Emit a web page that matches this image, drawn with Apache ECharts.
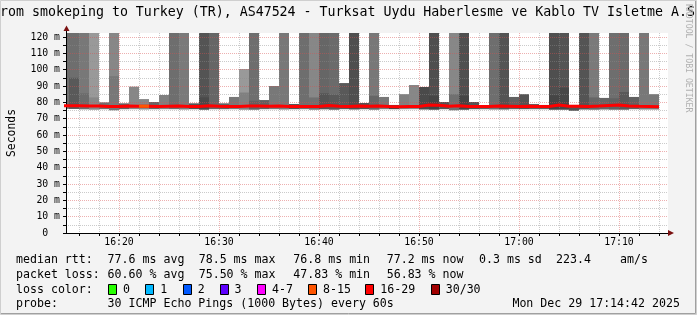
<!DOCTYPE html>
<html><head><meta charset="utf-8">
<script src="https://cdn.jsdelivr.net/npm/echarts@6/dist/echarts.min.js"></script>
<style>html,body{margin:0;padding:0;background:#f3f3f3;overflow:hidden}#c{width:697px;height:315px}</style>
</head><body><div id="c"></div>
<script>
// ---------------- data ----------------
const chartTitle = 'from smokeping to Turkey (TR), AS47524 - Turksat Uydu Haberlesme ve Kablo TV Isletme A.S.';
const yAxisName = 'Seconds';
const axisStart = '16:14:42';
const axisEnd = '17:14:54';
const firstStep = '16:14';           // start of the first 1-minute step
const yMax = 122.45;

// upper edge of the smoke per step (ms); values above yMax run off the top
const smokeHigh = [125,125,125,125,80,125,79.4,89.6,82,80.2,
  84.5,125,125,79.4,125,125,79.4,83.3,100.4,125,
  81.4,90,125,79,125,125,125,125,91.8,125,
  79.6,125,83.3,78.4,85,90.6,89.4,125,80.2,125,
  125,80.2,78.2,125,125,83.3,85,79,78.4,125,
  125,78.4,125,125,82.7,125,125,83.3,125,85];
// lower edge of the smoke per step (ms)
const smokeLow = [76.0,76.0,75.8,75.6,75.8,75.2,75.8,75.8,75.6,75.8,
  75.8,75.8,75.6,75.8,75.6,75.8,75.8,75.8,75.6,75.6,
  75.8,75.8,75.6,75.8,75.8,75.6,75.8,75.6,75.8,75.6,
  75.8,75.6,75.8,75.8,75.8,75.8,75.6,75.6,75.8,75.2,
  75.6,75.8,75.8,75.6,75.6,75.8,75.8,75.8,75.8,75.6,
  75.6,74.8,75.6,75.6,75.6,75.6,75.6,75.8,75.6,75.6];
// denser inner smoke band upper edge (ms), 0 = none
const smokeBand = [0,95,85.5,83,0,96,0,0,0,0,
  0,0,0,0,83,0,0,0,86,81,
  0,0,0,0,0,83,85.5,84.7,0,0,
  0,84,0,0,0,0,0,84,0,85,
  84,0,0,0,0,0,0,0,0,84.3,
  89,0,0,83,0,82.5,86.3,0,0,0];
// smoke density (%) of the outer smoke and of the inner band
const smokeDensity = [57,57,53,40,56,47,62,47,47,60,
  50,57,52,67,67,60,62,53,40,57,
  62,53,53,67,57,47,60,58,65,69,
  67,53,53,73,50,47,71,69,67,47,
  69,67,62,57,67,62,67,62,62,69,
  67,67,67,52,60,57,58,62,53,53];
const bandDensity = [0,65,58,47,0,53,0,0,0,0,
  0,0,0,0,71,0,0,0,50,62,
  0,0,0,0,0,56,67,65,0,0,
  0,60,0,0,0,0,0,73,0,56,
  73,0,0,0,0,0,0,0,0,73,
  72,0,0,60,0,62,65,0,0,0];
// median rtt per step (ms)
const medianRtt = [77.9,77.9,77.8,77.8,77.4,77.5,77.8,77.6,77.6,77.5,
  77.6,77.7,77.5,77.4,77.9,77.6,77.4,77.4,77.8,77.8,
  77.6,77.7,77.5,77.5,77.4,77.5,78.0,77.6,77.5,77.8,
  77.6,77.8,77.5,77.3,77.5,77.5,78.3,78.2,77.6,77.9,
  77.5,77.5,77.5,77.7,77.6,77.5,77.6,77.5,77.5,78.3,
  77.6,77.6,77.5,77.7,78.1,78.3,77.8,77.6,77.5,77.3];
// loss colour class of each step
const medianLossBand = ['16-29','16-29','16-29','16-29','16-29','16-29','16-29','16-29','8-15','16-29',
  '16-29','16-29','16-29','16-29','16-29','16-29','16-29','16-29','16-29','16-29',
  '16-29','16-29','16-29','16-29','16-29','16-29','16-29','16-29','16-29','16-29',
  '16-29','16-29','16-29','16-29','16-29','16-29','16-29','16-29','16-29','16-29',
  '16-29','16-29','16-29','16-29','16-29','16-29','16-29','16-29','16-29','16-29',
  '16-29','16-29','16-29','16-29','16-29','16-29','16-29','16-29','16-29','16-29'];

const xLabelTimes = ['16:20','16:30','16:40','16:50','17:00','17:10'];
const xTickTimes = ['16:16','16:18','16:20','16:22','16:24','16:26','16:28','16:30','16:32','16:34','16:36','16:38',
  '16:40','16:42','16:44','16:46','16:48','16:50','16:52','16:54','16:56','16:58','17:00','17:02','17:04','17:06',
  '17:08','17:10','17:12','17:14'];
const yLabelValues = [0,10,20,30,40,50,60,70,80,90,100,110,120];
const yLabelTexts = ['0  ','10 m','20 m','30 m','40 m','50 m','60 m','70 m','80 m','90 m','100 m','110 m','120 m'];
const yTickValues = [0,5,10,15,20,25,30,35,40,45,50,55,60,65,70,75,80,85,90,95,100,105,110,115,120];

const lossClasses = ['0','1','2','3','4-7','8-15','16-29','30/30'];
const lossColors = ['#26ff00','#00b8ff','#0059ff','#5e00ff','#ff00ff','#ff5500','#ff0000','#a10000'];

const legendRtt = ['median rtt:','77.6 ms avg','78.5 ms max','76.8 ms min','77.2 ms now','0.3 ms sd','223.4','am/s'];
const legendLoss = ['packet loss:','60.60 % avg','75.50 % max','47.83 % min','56.83 % now'];
const legendProbe = ['probe:','30 ICMP Echo Pings (1000 Bytes) every 60s','Mon Dec 29 17:14:42 2025'];
const lossColorLabel = 'loss color:';

// ---------------- helpers ----------------
// time of day in minutes since midnight
function t(hm) { const p = hm.split(':').map(Number); return p[0] * 60 + p[1] + (p[2] || 0) / 60; }
const t0 = t(firstStep);
function grayOf(d) { const g = Math.round(255 * (1 - d / 100)); return 'rgb(' + g + ',' + g + ',' + g + ')'; }
function hhmm(v) { const m = Math.round(v); return String(Math.floor(m / 60)).padStart(2, '0') + ':' + String(m % 60).padStart(2, '0'); }

const smokeData = smokeHigh.map((h, i) => [t0 + i, t0 + i + 1, smokeLow[i], h, smokeBand[i], smokeDensity[i], bandDensity[i]]);
const medRed = medianRtt.map((m, i) => [t0 + i, m]);
medRed.push([t0 + medianRtt.length, medianRtt[medianRtt.length - 1]]);
const orangeSeries = [];
medianLossBand.forEach((c, i) => {
  if (c === '8-15') orangeSeries.push({
    type: 'line', z: 6, silent: true, showSymbol: false,
    lineStyle: { color: lossColors[5], width: 3 },
    data: [[t0 + i, medianRtt[i]], [t0 + i + 1, medianRtt[i]]]
  });
});

const MAJOR = 'rgba(215,80,80,0.45)';
const MINOR = 'rgba(140,140,140,0.45)';
const ySplitColors = yTickValues.map(v => v % 10 === 0 ? MAJOR : MINOR);
const xTickNums = xTickTimes.map(t);
const xSplitColors = xTickTimes.map(s => s.endsWith('0') ? MAJOR : MINOR);

const G = { left: 66, top: 33, width: 602, height: 200 };
const FONT = 'DejaVu Sans Mono';

// ---------------- legend graphics ----------------
const gfx = [];
gfx.push({ type: 'rect', z: 0, shape: { x: 0.5, y: 0.5, width: 696, height: 314 }, style: { fill: 'none', stroke: '#cfcfcf', lineWidth: 1 } });
gfx.push({ type: 'polyline', z: 0, shape: { points: [[1, 313.5], [695.5, 313.5], [695.5, 1]] }, style: { stroke: '#a0a0a0', lineWidth: 1, fill: 'none' } });
gfx.push({ type: 'text', z: 10, x: 347.5, y: 13, style: { text: chartTitle, font: '13.27px "' + FONT + '"', fill: '#000', align: 'center', verticalAlign: 'middle' } });
gfx.push({ type: 'text', z: 10, x: 688.5, y: 4, rotation: -Math.PI / 2, style: { text: 'RRDTOOL / TOBI OETIKER', font: '8.2px "' + FONT + '"', fill: '#b0b0b0', align: 'left', verticalAlign: 'middle' } });
gfx.push({ type: 'polygon', z: 10, shape: { points: [[63.5, 31], [69.5, 31], [66.5, 25.5]] }, style: { fill: '#7a1010' } });
gfx.push({ type: 'line', z: 10, shape: { x1: 66.5, y1: 33, x2: 66.5, y2: 31 }, style: { stroke: '#000', lineWidth: 1 } });
gfx.push({ type: 'polygon', z: 10, shape: { points: [[668, 230], [668, 236], [674, 233]] }, style: { fill: '#7a1010' } });

const LF = '11.6px "' + FONT + '"';
function ltext(x, y, s) { gfx.push({ type: 'text', z: 10, x: x, y: y, style: { text: s, font: LF, fill: '#000', align: 'left', verticalAlign: 'middle' } }); }
const lineY = [260, 275, 289.5, 304];
const colX = [16, 107.6, 198.7, 293.3, 386.7, 479, 556, 620];
legendRtt.forEach((s, i) => ltext(colX[i], lineY[0], s));
legendLoss.forEach((s, i) => ltext(colX[i], lineY[1], s));
ltext(16, lineY[2], lossColorLabel);
const boxX = [108, 145.3, 182.7, 219.6, 257, 308, 365.3, 430.7];
lossClasses.forEach((c, i) => {
  gfx.push({ type: 'rect', z: 10, shape: { x: Math.round(boxX[i]) + 0.5, y: lineY[2] - 5, width: 8, height: 10 }, style: { fill: lossColors[i], stroke: '#000', lineWidth: 1 } });
  ltext(boxX[i] + 15, lineY[2], c);
});
ltext(16, lineY[3], legendProbe[0]);
ltext(107.6, lineY[3], legendProbe[1]);
ltext(512.4, lineY[3], legendProbe[2]);

// ---------------- chart ----------------
const chart = echarts.init(document.getElementById('c'), null, { renderer: 'canvas' });
chart.setOption({
  backgroundColor: '#f3f3f3',
  animation: false,
  grid: { left: G.left, top: G.top, width: G.width, height: G.height, outerBoundsMode: 'none', containLabel: false,
    backgroundColor: '#ffffff', show: true, borderWidth: 0 },
  xAxis: {
    type: 'value', min: t(axisStart), max: t(axisEnd), z: 4,
    axisLine: { show: true, lineStyle: { color: '#000', width: 1 } },
    axisTick: { show: true, length: 3, customValues: xTickNums, lineStyle: { color: '#000' } },
    axisLabel: { customValues: xLabelTimes.map(t), formatter: v => hhmm(v), color: '#000', fontFamily: FONT, fontSize: 9.8, margin: 4 },
    splitLine: { show: true, lineStyle: { color: xSplitColors, type: [1, 1], width: 1 } }
  },
  yAxis: {
    type: 'value', min: 0, max: yMax, z: 4,
    name: yAxisName, nameLocation: 'middle', nameRotate: 90, nameGap: 48,
    nameTextStyle: { color: '#000', fontFamily: FONT, fontSize: 11.4 },
    axisLine: { show: true, lineStyle: { color: '#000', width: 1 } },
    axisTick: { show: true, length: 3, customValues: yTickValues, lineStyle: { color: '#000' } },
    axisLabel: { customValues: yLabelValues, formatter: v => yLabelTexts[yLabelValues.indexOf(Math.round(v))] || '', color: '#000', fontFamily: FONT, fontSize: 9.8, margin: 6 },
    splitLine: { show: true, lineStyle: { color: ySplitColors, type: [1, 1], width: 1 } }
  },
  graphic: gfx,
  series: [
    {
      type: 'custom', z: 2, silent: true,
      encode: { x: [0, 1], y: [2, 3] },
      data: smokeData,
      renderItem: function (params, api) {
        const cs = params.coordSys;
        const a = api.value(0), b = api.value(1), lo = api.value(2), hi = api.value(3), band = api.value(4), d = api.value(5), bd = api.value(6);
        const kids = [];
        function rect(v0, v1, dens) {
          const p0 = api.coord([a, v1]), p1 = api.coord([b, v0]);
          const sh = echarts.graphic.clipRectByRect({ x: p0[0], y: p0[1], width: p1[0] - p0[0], height: p1[1] - p0[1] },
            { x: cs.x, y: cs.y, width: cs.width, height: cs.height });
          if (sh) kids.push({ type: 'rect', shape: sh, style: { fill: grayOf(dens) } });
        }
        rect(lo, hi, d);
        if (band > 0) rect(lo, band, bd);
        return { type: 'group', children: kids };
      }
    },
    {
      type: 'line', z: 5, silent: true, showSymbol: false, step: 'end',
      lineStyle: { color: lossColors[6], width: 3 },
      data: medRed
    }
  ].concat(orangeSeries)
});
</script></body></html>
